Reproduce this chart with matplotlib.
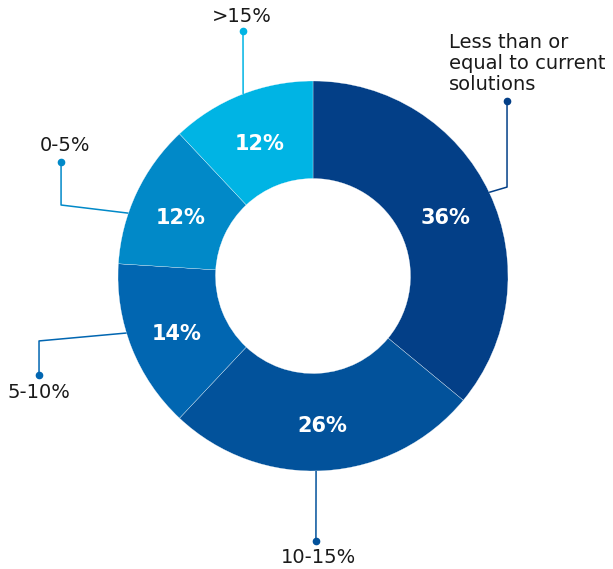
import numpy as np
import matplotlib.pyplot as plt

# Share of responses per category, clockwise from 12 o'clock
categories = ['Less than or\nequal to current\nsolutions', '10-15%', '5-10%', '0-5%', '>15%']
shares = [36, 26, 14, 12, 12]
colors = ['#033f87', '#02529b', '#0166b1', '#0189c8', '#00b4e4']

# Leader lines: angle where the line leaves the ring, optional elbow, end dot, label spot
anchor_angles = [25.4, 270.9, 197.0, 161.2, 111.0]
elbows = [(0.995, 0.456), None, (-1.405, -0.333), (-1.292, 0.364), None]
dots = [(0.995, 0.897), (0.015, -1.359), (-1.405, -0.508), (-1.292, 0.585), (-0.359, 1.256)]
label_pos = [(0.697, 1.092), (0.03, -1.446), (-1.408, -0.600), (-1.272, 0.667), (-0.364, 1.333)]

plt.rcParams['font.family'] = ['DejaVu Sans']

fig = plt.figure(figsize=(6.13, 5.69), dpi=100)
ax = fig.add_axes([0, 0, 1, 1])

wedges, _ = ax.pie(shares, colors=colors, startangle=90, counterclock=False, radius=1,
                   wedgeprops=dict(width=0.5, edgecolor='white', linewidth=0.2))

# Percentage inside each segment
for w, val in zip(wedges, shares):
    mid = np.deg2rad((w.theta1 + w.theta2) / 2)
    ax.text(0.75 * np.cos(mid), 0.75 * np.sin(mid) - 0.02, f'{val}%',
            ha='center', va='center', color='white', fontsize=15, fontweight='bold')

# Callouts
for i, name in enumerate(categories):
    a = np.deg2rad(anchor_angles[i])
    pts = [(np.cos(a), np.sin(a))]
    if elbows[i] is not None:
        pts.append(elbows[i])
    pts.append(dots[i])
    xs, ys = zip(*pts)
    ax.plot(xs, ys, color=colors[i], linewidth=1.1, solid_capstyle='butt')
    ax.plot(*dots[i], 'o', color=colors[i], markersize=4.5)
    lx, ly = label_pos[i]
    if i == 0:
        ax.text(lx, ly, name, ha='left', va='center', fontsize=14,
                color='#1a1a1a', linespacing=1.13)
    else:
        ax.text(lx, ly, name, ha='center', va='center', fontsize=14, color='#1a1a1a')

ax.set_xlim(-313 / 195, 300 / 195)
ax.set_ylim(-293 / 195, 276 / 195)
ax.set_aspect('equal')
ax.axis('off')

plt.savefig('out.png', dpi=100)
plt.close()
